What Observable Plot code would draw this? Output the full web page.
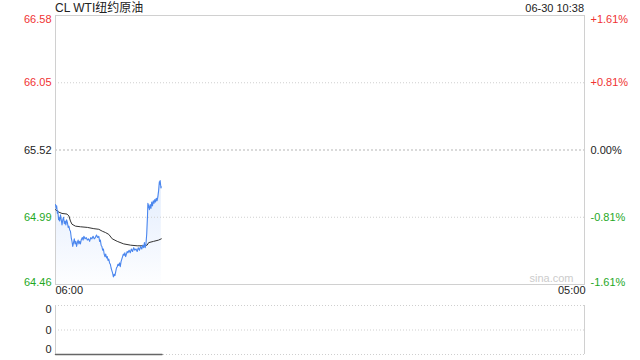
<!DOCTYPE html>
<html><head><meta charset="utf-8">
<script src="https://cdn.jsdelivr.net/npm/d3@7"></script>
<script src="https://cdn.jsdelivr.net/npm/@observablehq/plot@0.6"></script>
<style>
body{margin:0;background:#fff;font-family:"Liberation Sans",Arial,sans-serif;}
#wrap{position:relative;width:640px;height:360px;overflow:hidden;background:#fff;}
#title{position:absolute;left:55px;top:0;font-size:12px;line-height:16px;color:#222;font-family:"Liberation Sans","Noto Sans CJK SC",sans-serif;white-space:nowrap;}
#time{position:absolute;right:56px;top:0;font-size:11px;line-height:16px;color:#222;white-space:nowrap;}
#main{position:absolute;left:0;top:0;}
#vol{position:absolute;left:0;top:300px;}
</style></head><body>
<div id="wrap">
  <div id="title">CL WTI纽约原油</div>
  <div id="time">06-30 10:38</div>
  <div id="main"></div>
  <div id="vol"></div>
</div>
<script>
// ---- data (minutes after 06:00) ----
const priceMinutes = [0,2,3,5,6,8,9,11,13,15,17,19,21,23,25,27,29,31,33,35,37,39,41,43,45,47,49,51,53,55,57,59,61,63,65,67,70,72,74,77,80,83,86,89,92,95,98,101,104,107,110,113,115,117,119,121,123,125,127,129,131,133,135,137,139,141,143,145,147,149,151,153,155,157,159,161,163,165,167,169,171,173,175,177,179,181,183,185,187,189,192,195,198,201,204,207,210,213,216,219,222,225,228,230,232,234,236,238,240,241,243,245,247,249,251,253,255,257,259,261,263,265,267,269,271,272,273,275,276];
const priceValues = [65.09,65.06,65.08,65.02,65.04,64.97,64.99,64.96,65.01,64.97,64.93,64.97,64.99,64.94,64.96,64.93,64.97,64.95,64.91,64.92,64.89,64.88,64.83,64.80,64.76,64.79,64.82,64.78,64.80,64.76,64.79,64.81,64.78,64.80,64.78,64.81,64.83,64.81,64.84,64.82,64.83,64.81,64.82,64.80,64.83,64.82,64.84,64.82,64.83,64.85,64.83,64.84,64.80,64.81,64.77,64.76,64.73,64.74,64.70,64.68,64.70,64.67,64.68,64.65,64.66,64.63,64.62,64.59,64.57,64.55,64.52,64.54,64.53,64.56,64.59,64.60,64.62,64.61,64.63,64.60,64.64,64.66,64.68,64.70,64.69,64.71,64.68,64.70,64.72,64.71,64.73,64.71,64.74,64.72,64.75,64.73,64.74,64.72,64.75,64.73,64.76,64.74,64.77,64.75,64.79,64.75,64.78,64.86,65.00,65.10,65.08,65.05,65.09,65.06,65.11,65.08,65.12,65.10,65.13,65.11,65.14,65.12,65.15,65.20,65.27,65.25,65.28,65.22,65.23];
const avgMinutes = [0,4,9,17,30,35,39,43,52,65,83,100,113,122,130,139,148,161,178,196,213,230,239,243,256,269,276];
const avgValues = [65.05,65.04,65.03,65.02,65.015,65.00,64.96,64.935,64.92,64.915,64.91,64.90,64.895,64.88,64.87,64.855,64.82,64.80,64.78,64.77,64.765,64.765,64.77,64.79,64.80,64.81,64.82];
const prevClose = 65.52;
const priceTicks = [66.58, 66.05, 65.52, 64.99, 64.46];
const pctLabels = ["+1.61%", "+0.81%", "0.00%", "-0.81%", "-1.61%"];
const gridLevels = [66.05, 64.99];
const xTicks = [0, 1380];
const xTickLabels = ["06:00", "05:00"];
const volMinutes = [0, 60, 120, 180, 240, 278];
const volValues = [0, 0, 0, 0, 0, 0];
const volTickFractions = [1, 0.5, 0];
const volMax = 0;

const RED = "#f03232", GREEN = "#1fa81f", BLACK = "#222";
const tickColor = v => v > prevClose ? RED : v < prevClose ? GREEN : BLACK;
const price = priceMinutes.map((m, i) => ({m, p: priceValues[i]}));
const avg = avgMinutes.map((m, i) => ({m, p: avgValues[i]}));
const ticks = priceTicks.map((v, i) => ({v, pct: pctLabels[i], c: tickColor(v)}));
const yMin = d3.min(priceTicks), yMax = d3.max(priceTicks);
const font = {fontSize: "11px", fontFamily: "'Liberation Sans', Arial, sans-serif", background: "transparent"};

const defs = () => {
  const s = d3.create("svg:defs");
  const g = s.append("linearGradient").attr("id", "fillGrad").attr("x1", 0).attr("y1", 0).attr("x2", 0).attr("y2", 1);
  g.append("stop").attr("offset", "0%").attr("stop-color", "#4a8af4").attr("stop-opacity", 0.16);
  g.append("stop").attr("offset", "100%").attr("stop-color", "#4a8af4").attr("stop-opacity", 0.01);
  return s.node();
};

function tickText(data, anchor, side) {
  const left = side === "left";
  return Plot.text(data, {
    y: "v", text: d => left ? d.v.toFixed(2) : d.pct, fill: "c",
    frameAnchor: left ? "left" : "right", textAnchor: left ? "end" : "start",
    dx: left ? -4 : 6, lineAnchor: anchor, dy: anchor === "top" ? 0 : anchor === "bottom" ? 1 : 0
  });
}

const main = Plot.plot({
  width: 640, height: 300,
  marginTop: 15, marginBottom: 16, marginLeft: 55, marginRight: 56,
  x: {domain: [0, 1380], axis: null},
  y: {domain: [yMin, yMax], axis: null},
  color: {type: "identity"},
  style: font,
  marks: [
    defs,
    Plot.areaY(price, {x: "m", y1: yMin, y2: "p", fill: "url(#fillGrad)"}),
    Plot.ruleY(gridLevels, {stroke: "#cfcfcf", strokeDasharray: "1,2"}),
    Plot.ruleY([prevClose], {stroke: "#b5b5b5", strokeDasharray: "2,2"}),
    Plot.frame({stroke: "#d0d0d0"}),
    Plot.lineY(avg, {x: "m", y: "p", stroke: "#333", strokeWidth: 1}),
    Plot.lineY(price, {x: "m", y: "p", stroke: "#4a86ee", strokeWidth: 1.1}),
    tickText(ticks.slice(0, 1), "top", "left"),
    tickText(ticks.slice(1, 4), "middle", "left"),
    tickText(ticks.slice(4), "bottom", "left"),
    tickText(ticks.slice(0, 1), "top", "right"),
    tickText(ticks.slice(1, 4), "middle", "right"),
    tickText(ticks.slice(4), "bottom", "right"),
    Plot.text([xTicks[0]], {x: d => d, text: () => xTickLabels[0], frameAnchor: "bottom", textAnchor: "start", dy: 9, fill: BLACK}),
    Plot.text([xTicks[1]], {x: d => d, text: () => xTickLabels[1], frameAnchor: "bottom", textAnchor: "end", dy: 9, dx: 1, fill: BLACK}),
    Plot.text(["sina.com"], {text: d => d, frameAnchor: "bottom-right", textAnchor: "end", lineAnchor: "bottom", dx: -11, dy: -3, fill: "#cccccc", fontSize: 11})
  ]
});
document.getElementById("main").appendChild(main);

const volData = volMinutes.map((m, i) => ({m, v: volValues[i]}));
const volTicks = volTickFractions.map(f => ({f, label: String(Math.round(f * volMax))}));
const vol = Plot.plot({
  width: 640, height: 60,
  marginTop: 5, marginBottom: 6, marginLeft: 55, marginRight: 56,
  x: {domain: [0, 1380], axis: null},
  y: {domain: [0, 1], axis: null},
  style: font,
  marks: [
    Plot.ruleY(volTicks, {y: "f", stroke: "#cfcfcf", strokeDasharray: "1,2"}),
    Plot.ruleX(xTicks, {x: d => d, stroke: "#d0d0d0"}),
    Plot.lineY(volData, {x: "m", y: "v", stroke: "#666", strokeWidth: 1.5}),
    Plot.text(volTicks.slice(0, 1), {y: "f", text: "label", frameAnchor: "left", textAnchor: "end", dx: -4, lineAnchor: "top", fill: BLACK}),
    Plot.text(volTicks.slice(1, 2), {y: "f", text: "label", frameAnchor: "left", textAnchor: "end", dx: -4, lineAnchor: "middle", fill: BLACK}),
    Plot.text(volTicks.slice(2), {y: "f", text: "label", frameAnchor: "left", textAnchor: "end", dx: -4, lineAnchor: "bottom", dy: -2, fill: BLACK})
  ]
});
document.getElementById("vol").appendChild(vol);
</script>
</body></html>
